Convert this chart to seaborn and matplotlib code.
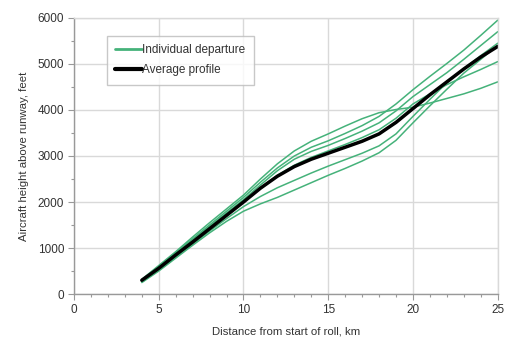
import numpy as np
import pandas as pd
import matplotlib
matplotlib.use("Agg")
import matplotlib.pyplot as plt
from matplotlib.lines import Line2D
from matplotlib.ticker import MultipleLocator
import seaborn as sns

# distance from start of roll, km
km = [4, 5, 6, 7, 8, 9, 10, 11, 12, 13, 14, 15, 16, 17, 18, 19, 20, 21, 22, 23, 24, 25]

# individual departures, height above runway (feet)
dep_a = [260, 520, 810, 1090, 1370, 1640, 1900, 2120, 2310, 2470, 2630, 2780, 2920, 3060, 3220, 3480, 3860, 4230, 4590, 4900, 5180, 5450]
dep_b = [300, 600, 900, 1200, 1500, 1800, 2100, 2430, 2740, 3000, 3190, 3330, 3490, 3660, 3860, 4130, 4440, 4730, 5010, 5300, 5620, 5950]
dep_c = [310, 600, 890, 1180, 1470, 1760, 2050, 2370, 2680, 2930, 3100, 3230, 3380, 3540, 3720, 3980, 4290, 4550, 4810, 5100, 5400, 5700]
dep_d = [290, 570, 850, 1140, 1430, 1720, 2000, 2300, 2580, 2800, 2970, 3110, 3250, 3400, 3570, 3820, 4130, 4350, 4550, 4720, 4880, 5050]
dep_e = [320, 620, 920, 1240, 1550, 1850, 2150, 2500, 2830, 3110, 3320, 3480, 3650, 3810, 3940, 4010, 4060, 4150, 4250, 4350, 4470, 4610]
dep_f = [250, 500, 780, 1060, 1330, 1580, 1800, 1960, 2100, 2260, 2420, 2580, 2730, 2890, 3070, 3340, 3720, 4090, 4450, 4800, 5100, 5400]

# average profile
average = [300, 560, 850, 1130, 1420, 1710, 2000, 2300, 2560, 2770, 2930, 3060, 3190, 3320, 3480, 3730, 4030, 4330, 4610, 4890, 5150, 5380]

departures = {"A": dep_a, "B": dep_b, "C": dep_c, "D": dep_d, "E": dep_e, "F": dep_f}

legend_labels = ["Individual departure", "Average profile"]
xlabel = "Distance from start of roll, km"
ylabel = "Aircraft height above runway, feet"

green = "#45b27a"
grid_col = "#d9d9d9"
text_col = "#333333"

rows = []
for name, vals in departures.items():
    for x, y in zip(km, vals):
        rows.append({"km": x, "height": y, "flight": name})
df_dep = pd.DataFrame(rows)
df_avg = pd.DataFrame({"km": km, "height": average})

sns.set_theme(style="white")
plt.rcParams["font.family"] = ["Liberation Sans", "DejaVu Sans"]

fig = plt.figure(figsize=(5.08, 3.38), dpi=100)
ax = fig.add_axes([0.1457, 0.130, 0.834, 0.817])

sns.lineplot(data=df_dep, x="km", y="height", units="flight", estimator=None,
             color=green, linewidth=1.1, ax=ax, legend=False)
sns.lineplot(data=df_avg, x="km", y="height", color="black", linewidth=2.5,
             ax=ax, legend=False)

ax.set_xlim(0, 25)
ax.set_ylim(0, 6000)
ax.xaxis.set_major_locator(MultipleLocator(5))
ax.xaxis.set_minor_locator(MultipleLocator(1))
ax.yaxis.set_major_locator(MultipleLocator(1000))
ax.yaxis.set_minor_locator(MultipleLocator(500))
ax.grid(True, which="major", color=grid_col, linewidth=1.0)
ax.set_axisbelow(True)

for side in ["top", "right"]:
    ax.spines[side].set_color(grid_col)
    ax.spines[side].set_linewidth(1.0)
for side in ["left", "bottom"]:
    ax.spines[side].set_color("#999999")
    ax.spines[side].set_linewidth(1.0)

ax.tick_params(axis="both", which="major", direction="out", length=4, width=0.8,
               color="#999999", labelsize=8.5, labelcolor=text_col, pad=3)
ax.tick_params(axis="both", which="minor", direction="out", length=2.5, width=0.8,
               color="#999999")
ax.tick_params(axis="x", which="both", bottom=True)
ax.tick_params(axis="y", which="both", left=True)

ax.set_xlabel(xlabel, fontsize=8.2, color=text_col, labelpad=8)
ax.set_ylabel(ylabel, fontsize=8.2, color=text_col, labelpad=6)

handles = [Line2D([0], [0], color=green, linewidth=2.0),
           Line2D([0], [0], color="black", linewidth=3.0)]
leg = ax.legend(handles, legend_labels, loc="upper left",
                bbox_to_anchor=(0.078, 0.935), fontsize=8.5, frameon=True,
                fancybox=False, edgecolor="#bbbbbb", handlelength=2.3,
                handletextpad=0.0, borderpad=0.7, labelspacing=0.7,
                borderaxespad=0.0)
leg.get_frame().set_linewidth(1.0)
for t in leg.get_texts():
    t.set_color(text_col)

fig.savefig("out.png", dpi=100)
